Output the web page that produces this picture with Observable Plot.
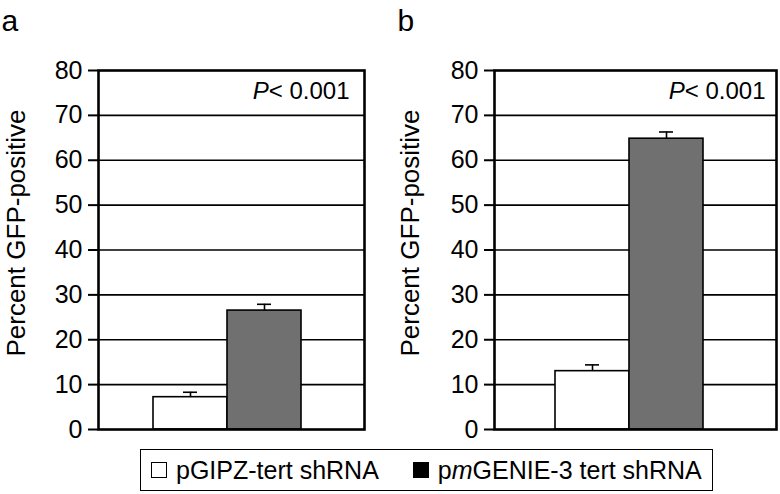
<!DOCTYPE html>
<html>
<head>
<meta charset="utf-8">
<script src="https://cdn.jsdelivr.net/npm/d3@7"></script>
<script src="https://cdn.jsdelivr.net/npm/@observablehq/plot@0.6"></script>
<style>
  html, body { margin: 0; padding: 0; background: white; }
  #wrap { position: relative; width: 780px; height: 494px; font-family: "Liberation Sans", Arial, Helvetica, sans-serif; color: black; }
  .panel { position: absolute; top: 0; }
  #legend { position: absolute; left: 140px; top: 449px; width: 571px; height: 40px; border: 1.5px solid black; display: flex; align-items: center; font-size: 25px; box-sizing: content-box; }
  .sw { display: inline-block; width: 14px; height: 14px; border: 1.5px solid black; margin-right: 9px; }
  .item { display: flex; align-items: center; white-space: pre; }
</style>
</head>
<body>
<div id="wrap">
  <div class="panel" id="pa" style="left:0px"></div>
  <div class="panel" id="pb" style="left:390px"></div>
  <div id="legend"></div>
</div>
<script>
// ---- data ----
const groups = ["pGIPZ-tert shRNA", "pmGENIE-3 tert shRNA"];
const groupFills = ["white", "#707070"];
const panelLabels = ["a", "b"];
const valuesA = [7.2, 26.5];
const errorsA = [1.1, 1.4];
const valuesB = [13.0, 64.8];
const errorsB = [1.4, 1.5];
const yTicks = [0, 10, 20, 30, 40, 50, 60, 70, 80];
const gridTicks = [10, 20, 30, 40, 50, 60, 70];
const yLabel = "Percent GFP-positive";
const pText = "P< 0.001";

const FONT = "Liberation Sans, Arial, Helvetica, sans-serif";

function panel(values, errors, letter, cfg) {
  const data = groups.map((g, i) => ({group: g, value: values[i], top: values[i] + errors[i], fill: groupFills[i]}));
  const svg = Plot.plot({
    width: 390,
    height: 445,
    marginTop: 70,
    marginBottom: 16,
    marginLeft: cfg.ml,
    marginRight: cfg.mr,
    style: {fontFamily: FONT, background: "white", color: "black", overflow: "visible"},
    x: {domain: groups, range: cfg.xr, padding: 0, axis: null},
    y: {domain: [0, 80], label: null},
    color: {type: "identity"},
    marks: [
      Plot.ruleY(gridTicks, {stroke: "black", strokeWidth: 1.6}),
      Plot.barY(data, {x: "group", y: "value", fill: "fill", stroke: "black", strokeWidth: 1.6}),
      Plot.ruleX(data, {x: "group", y1: "value", y2: "top", stroke: "black", strokeWidth: 1.6}),
      Plot.tickY(data, {x: "group", y: "top", stroke: "black", strokeWidth: 1.6, insetLeft: 30, insetRight: 30}),
      Plot.frame({stroke: "black", strokeWidth: 2.6}),
      Plot.axisY({ticks: yTicks, tickSize: 10, tickPadding: 6, fontSize: 25, strokeWidth: 2, label: null}),
      Plot.text([yLabel], {frameAnchor: "left", rotate: -90, textAnchor: "middle", lineAnchor: "bottom", dx: cfg.ldx, dy: cfg.ldy, fontSize: 26}),
      Plot.text([pText], {frameAnchor: "top-right", textAnchor: "end", lineAnchor: "bottom", dx: cfg.pdx, dy: 28, fontSize: 24}),
      Plot.text([letter], {frameAnchor: "top-left", textAnchor: "start", lineAnchor: "bottom", dx: cfg.adx, dy: -40, fontSize: 30})
    ]
  });
  // italic P
  d3.select(svg).selectAll("text").filter(function() { return this.textContent === pText; })
    .each(function() {
      const t = d3.select(this);
      t.text(null);
      t.append("tspan").attr("font-style", "italic").text("P");
      t.append("tspan").text("<\u00a00.001");
    });
  return svg;
}

document.getElementById("pa").appendChild(panel(valuesA, errorsA, panelLabels[0], {ml: 98, mr: 26, xr: [153, 301], ldx: -74, ldy: -17, pdx: -15, adx: -97}));
document.getElementById("pb").appendChild(panel(valuesB, errorsB, panelLabels[1], {ml: 104, mr: 4, xr: [165, 313], ldx: -76, ldy: -17, pdx: -11, adx: -97}));

// legend
const legend = d3.select("#legend");
const it1 = legend.append("div").attr("class", "item").style("margin-left", "10px");
it1.append("span").attr("class", "sw").style("background", "white");
it1.append("span").text("pGIPZ-tert shRNA");
const it2 = legend.append("div").attr("class", "item").style("margin-left", "34px");
it2.append("span").attr("class", "sw").style("background", "black");
const t2 = it2.append("span");
t2.append("span").text("p");
t2.append("i").text("m");
t2.append("span").text("GENIE-3 tert shRNA");
</script>
</body>
</html>
